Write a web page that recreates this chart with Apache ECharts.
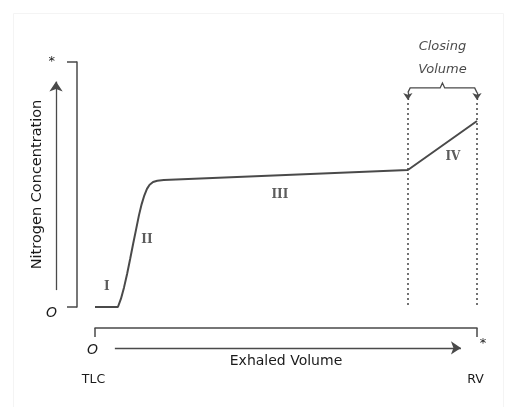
<!DOCTYPE html>
<html>
<head>
<meta charset="utf-8">
<script src="https://cdn.jsdelivr.net/npm/echarts@6/dist/echarts.min.js"></script>
<style>html,body{margin:0;padding:0;background:#fff;}#c{width:508px;height:407px;}</style>
</head>
<body>
<div id="c"></div>
<script>
// Single-breath nitrogen washout curve (0..100 scale)
var exhaledVolume = [0, 6.0, 6.8, 7.6, 8.4, 9.2, 10.0, 10.8, 11.5, 12.2, 12.9, 13.6, 14.3, 15.2, 16.3, 18.0, 81.9, 100];
var nitrogenConc  = [0, 0, 3.4, 8.0, 13.5, 19.6, 25.9, 32.0, 37.4, 41.9, 45.5, 48.2, 49.9, 51.0, 51.5, 51.8, 55.9, 75.9];

// phase labels
var phaseNames  = ['I', 'II', 'III', 'IV'];
var phaseX      = [3.1, 13.6, 48.4, 93.7];
var phaseY      = [8.2, 27.3, 45.7, 61.2];

// closing volume boundaries
var closingStart = 81.9;
var closingEnd = 100;

// axis tick labels
var xStartLabel = {0: 'O'};
var xEndLabel = {100: '*'};
var yTickLabels = {0: 'O', 100: '*'};
var xEndNames = {0: 'TLC', 100: 'RV'};

var FONT = '"DejaVu Sans", sans-serif';
var INK = '#4a4a4a';
var TXT = '#1a1a1a';

var curve = exhaledVolume.map(function (v, i) { return [v, nitrogenConc[i]]; });
var phaseData = phaseNames.map(function (n, i) { return {value: [phaseX[i], phaseY[i]], name: n}; });

var braceY = 89.4, braceTop = 91.4, arrowTip = 84.5, mid = (closingStart + closingEnd) / 2;

function hiddenX(margin, fmt, extra) {
  var lbl = Object.assign({margin: margin, formatter: fmt, fontFamily: FONT, fontSize: 13, color: TXT}, extra || {});
  return {
    type: 'value', min: 0, max: 100, interval: 100, offset: 21, position: 'bottom',
    splitLine: {show: false}, axisLine: {show: false, onZero: false}, axisTick: {show: false},
    axisLabel: lbl
  };
}

var chart = echarts.init(document.getElementById('c'));
chart.setOption({
  backgroundColor: '#fff',
  animation: false,
  graphic: [{
    type: 'rect', silent: true, z: -10,
    shape: {x: 13.5, y: 13.5, width: 490, height: 400},
    style: {fill: 'none', stroke: '#f4f4f4', lineWidth: 1}
  }],
  grid: {left: 95, right: 31, top: 62, bottom: 100},
  xAxis: [
    {
      type: 'value', min: 0, max: 100, interval: 100, offset: 21, position: 'bottom',
      splitLine: {show: false},
      axisLine: {show: true, onZero: false, lineStyle: {color: INK, width: 1.5}},
      axisTick: {show: true, length: 9, lineStyle: {color: INK, width: 1.5}},
      axisLabel: {
        margin: 15,
        formatter: function (v) { return xStartLabel[v] || ''; },
        fontFamily: FONT, fontSize: 14, fontStyle: 'italic', color: TXT, padding: [0, 5, 0, 0]
      },
      name: 'Exhaled Volume', nameLocation: 'middle', nameGap: 26, nameMoveOverlap: false,
      nameTextStyle: {fontFamily: FONT, fontSize: 14, color: TXT}
    },
    hiddenX(9, function (v) { return xEndLabel[v] || ''; }, {padding: [0, 0, 0, 12]}),
    hiddenX(45, function (v) { return xEndNames[v] || ''; }, {fontSize: 12.5, padding: [0, 3, 0, 0]})
  ],
  yAxis: {
    type: 'value', min: 0, max: 100, interval: 100, offset: 18,
    splitLine: {show: false},
    axisLine: {show: true, onZero: false, lineStyle: {color: INK, width: 1.5}},
    axisTick: {show: true, length: 10, lineStyle: {color: INK, width: 1.5}},
    axisLabel: {
      margin: 20,
      formatter: function (v) { return v === 0 ? '{o|' + yTickLabels[v] + '}' : '{s|' + yTickLabels[v] + '}'; },
      rich: {
        o: {fontFamily: FONT, fontSize: 14, fontStyle: 'italic', color: TXT, padding: [12, 0, 0, 0]},
        s: {fontFamily: FONT, fontSize: 13, color: TXT, padding: [0, 2, 0, 0]}
      }
    },
    name: 'Nitrogen Concentration', nameLocation: 'middle', nameGap: 32, nameMoveOverlap: false,
    nameTextStyle: {fontFamily: FONT, fontSize: 14.5, color: TXT}
  },
  series: [
    {
      type: 'line', data: curve, showSymbol: false, symbol: 'none', smooth: false,
      lineStyle: {color: '#4a4a4a', width: 2}
    },
    {
      type: 'lines', coordinateSystem: 'cartesian2d', polyline: false, clip: false,
      symbol: ['none', 'none'],
      lineStyle: {color: '#444', width: 1.5, type: [2, 3], opacity: 1},
      data: [
        {coords: [[closingStart, 0.8], [closingStart, arrowTip]]},
        {coords: [[closingEnd, 0.8], [closingEnd, arrowTip]]}
      ]
    },
    {
      type: 'lines', coordinateSystem: 'cartesian2d', polyline: true, clip: false,
      lineStyle: {color: INK, width: 1.3, opacity: 1},
      data: [
        {coords: [[closingStart, 87.5], [closingStart + 0.6, braceY], [mid - 0.6, braceY], [mid, braceTop], [mid + 0.6, braceY], [closingEnd - 0.6, braceY], [closingEnd, 87.5]]}
      ]
    },
    {
      type: 'lines', coordinateSystem: 'cartesian2d', clip: false,
      symbol: ['none', 'arrow'], symbolSize: 7,
      lineStyle: {color: INK, width: 1.3, opacity: 1},
      data: [
        {coords: [[closingStart, 87.6], [closingStart, arrowTip]]},
        {coords: [[closingEnd, 87.6], [closingEnd, arrowTip]]},
        {coords: [[-10.2, 6.9], [-10.2, 92]], symbolSize: 10},
        {coords: [[5.2, -16.7], [95.8, -16.7]], symbolSize: 10}
      ]
    },
    {
      type: 'scatter', data: phaseData, symbolSize: 1, clip: false,
      itemStyle: {color: 'rgba(0,0,0,0)'},
      label: {show: true, position: 'inside', formatter: '{b}', fontFamily: '"DejaVu Serif", serif', fontSize: 12, fontWeight: 'bold', color: '#333'}
    },
    {
      type: 'scatter', data: [{value: [mid, 101.4], name: 'Closing\nVolume'}], symbolSize: 1, clip: false,
      itemStyle: {color: 'rgba(0,0,0,0)'},
      label: {show: true, position: 'inside', formatter: '{b}', fontFamily: FONT, fontSize: 13, fontStyle: 'italic', color: TXT, lineHeight: 23}
    }
  ]
});
</script>
</body>
</html>
